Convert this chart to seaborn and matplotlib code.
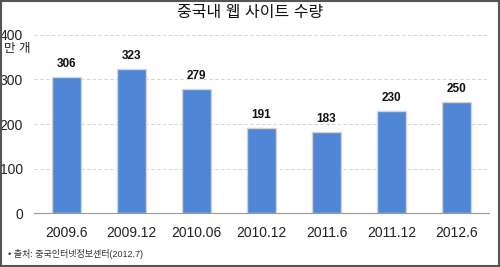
import matplotlib
matplotlib.use("Agg")
import matplotlib.pyplot as plt
import seaborn as sns
import pandas as pd
import numpy as np
from matplotlib.patches import Rectangle

categories = ["2009.6", "2009.12", "2010.06", "2010.12", "2011.6", "2011.12", "2012.6"]
values = [306, 323, 279, 191, 183, 230, 250]
yticks = [0, 100, 200, 300, 400]

sns.set_theme(style="white")
plt.rcParams['font.family'] = ['Liberation Sans', 'Noto Sans CJK KR', 'DejaVu Sans']

df = pd.DataFrame({"period": categories, "sites": values})

fig = plt.figure(figsize=(5, 2.67), dpi=100)
ax = fig.add_axes([0.068, 0.202, 0.910, 0.667])

sns.barplot(data=df, x="period", y="sites", color="#4F86D6", saturation=1,
            width=0.46, edgecolor="#d4d4d4", linewidth=1.0, ax=ax, zorder=3)

ax.set_ylim(0, 400)
ax.set_yticks(yticks)
ax.set_yticklabels([str(t) for t in yticks], fontsize=10, color="#222222")
for t in yticks[1:]:
    ax.axhline(t, color="#cccccc", linestyle=(0, (4, 3)), linewidth=0.6, zorder=1)

ax.set_xlim(-0.5, len(categories) - 0.5)
ax.set_xticks(range(len(categories)))
ax.set_xticklabels(categories, fontsize=10, color="#222222")
ax.set_xticks(np.arange(-0.5, len(categories)), minor=True)
ax.tick_params(axis="x", which="major", length=0, pad=9)
ax.tick_params(axis="x", which="minor", length=3, color="#999999", direction="out")
ax.tick_params(axis="y", length=0, pad=8)
ax.set_xlabel("")
ax.set_ylabel("")
for s in ["top", "right", "left"]:
    ax.spines[s].set_visible(False)
ax.spines["bottom"].set_color("#999999")
ax.spines["bottom"].set_linewidth(0.8)

for i, v in enumerate(values):
    ax.annotate(str(v), (i, v), xytext=(0, 5), textcoords="offset points",
                ha="center", va="bottom", fontsize=8.5, fontweight="bold", color="#111111")

fig.text(0.5, 0.953, "중국내 웹 사이트 수량", ha="center", va="center", fontsize=11.5, color="#111111")
fig.text(0.008, 0.815, "만 개", ha="left", va="center", fontsize=9, color="#222222")
fig.text(0.016, 0.05, "• 출처: 중국인터넷정보센터(2012.7)", ha="left", va="center",
         fontsize=6.5, color="#333333")

fig.patches.append(Rectangle((0.002, 0.004), 0.996, 0.992, transform=fig.transFigure,
                             fill=False, edgecolor="#555555", linewidth=1.5))

fig.savefig("out.png", dpi=100)
